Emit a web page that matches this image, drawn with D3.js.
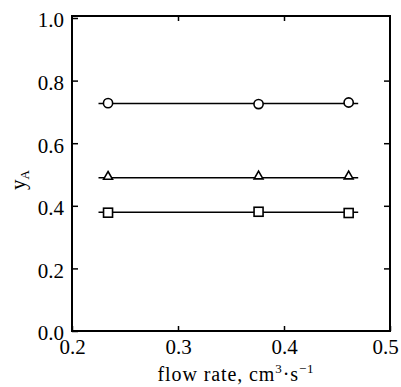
<!DOCTYPE html>
<html><head><meta charset="utf-8">
<script src="https://cdn.jsdelivr.net/npm/d3@7"></script>
<style>body{margin:0;background:#fff}svg{display:block}
svg text{font-family:'Liberation Serif','Times New Roman',serif;}</style>
</head><body>
<script>
const flowRate = [0.234, 0.376, 0.461];
const circleY = [0.728, 0.725, 0.730];
const triangleY = [0.490, 0.491, 0.491];
const squareY = [0.378, 0.381, 0.377];
const fitX = [0.225, 0.47];
const fitLevels = [0.727, 0.490, 0.379];
const xTicks = [0.2, 0.3, 0.4, 0.5];
const yTicks = [0.0, 0.2, 0.4, 0.6, 0.8, 1.0];

(function () {
const W = 401, H = 387;
const svg = d3.select("body").append("svg").attr("width", W).attr("height", H);
const x = d3.scaleLinear().domain([0.2, 0.5]).range([72, 390]);
const y = d3.scaleLinear().domain([0, 1]).range([331, 18]);
const font = "'Liberation Serif','Times New Roman',serif";
const frameTop = 16;

svg.append("path")
  .attr("d", `M${x(0.2)},${frameTop}H${x(0.5)}V${y(0)}H${x(0.2)}Z`)
  .attr("fill", "none").attr("stroke", "#000").attr("stroke-width", 2);

const fmt = d3.format(".1f");
const gBottom = svg.append("g").attr("transform", `translate(0,${y(0)})`)
  .call(d3.axisBottom(x).tickValues(xTicks).tickFormat(fmt).tickSize(-5).tickPadding(8));
const gTop = svg.append("g").attr("transform", `translate(0,${frameTop})`)
  .call(d3.axisTop(x).tickValues(xTicks.slice(1, 3)).tickFormat("").tickSize(-5));
const gLeft = svg.append("g").attr("transform", `translate(${x(0.2)},0)`)
  .call(d3.axisLeft(y).tickValues(yTicks).tickFormat(fmt).tickSize(-6).tickPadding(8));
const gRight = svg.append("g").attr("transform", `translate(${x(0.5)},0)`)
  .call(d3.axisRight(y).tickValues(yTicks.slice(1, 5)).tickFormat("").tickSize(-6));
[gBottom, gTop, gLeft, gRight].forEach(g => {
  g.attr("font-family", font);
  g.select(".domain").remove();
  g.selectAll(".tick line").attr("stroke", "#000").attr("stroke-width", 1.5);
  g.selectAll(".tick text").style("font-family", font).attr("font-size", 21).attr("fill", "#000");
});
gLeft.selectAll(".tick text").attr("dy", "0.42em");
gBottom.selectAll(".tick text").filter(d => d === 0.5).attr("dx", -5);

const line = d3.line().x(d => x(d[0])).y(d => y(d[1]));
fitLevels.forEach(v => {
  svg.append("path").datum(fitX.map(fx => [fx, v])).attr("d", line)
    .attr("fill", "none").attr("stroke", "#000").attr("stroke-width", 1.5);
});

const mk = svg.append("g").attr("fill", "#fff").attr("stroke", "#000").attr("stroke-width", 1.6);
mk.selectAll("circle").data(flowRate.map((f, i) => [f, circleY[i]])).join("circle")
  .attr("cx", d => x(d[0])).attr("cy", d => y(d[1])).attr("r", 4.6);
mk.selectAll("rect").data(flowRate.map((f, i) => [f, squareY[i]])).join("rect")
  .attr("x", d => x(d[0]) - 4.5).attr("y", d => y(d[1]) - 4.5).attr("width", 9).attr("height", 9);
const tri = d3.symbol().type(d3.symbolTriangle).size(34);
mk.selectAll("path.tri").data(flowRate.map((f, i) => [f, triangleY[i]])).join("path")
  .attr("class", "tri").attr("d", tri)
  .attr("transform", d => `translate(${x(d[0])},${y(d[1]) - 1})`);

const xt = svg.append("text").attr("x", 236).attr("y", 381).attr("text-anchor", "middle")
  .style("font-family", font).attr("font-size", 20).attr("letter-spacing", 0.9).attr("fill", "#000");
xt.append("tspan").text("flow rate, cm");
xt.append("tspan").attr("font-size", 13).attr("dy", -8).text("3");
xt.append("tspan").attr("dy", 8).text("·s");
xt.append("tspan").attr("font-size", 13).attr("dy", -8).text("−1");

const yt = svg.append("text").attr("transform", "translate(25,180) rotate(-90)")
  .attr("text-anchor", "middle").style("font-family", font).attr("font-size", 21).attr("fill", "#000");
yt.append("tspan").text("y");
yt.append("tspan").attr("font-size", 13).attr("dy", 4).text("A");
})();
</script>
</body></html>
